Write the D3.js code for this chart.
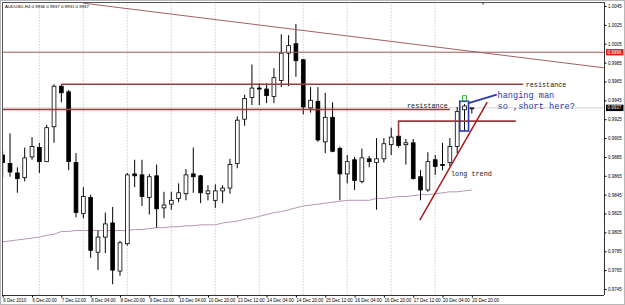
<!DOCTYPE html>
<html>
<head>
<meta charset="utf-8">
<script src="https://cdn.jsdelivr.net/npm/d3@7"></script>
<style>
  html, body { margin: 0; padding: 0; background: #fff; }
  svg { display: block; font-family: "Liberation Sans", Arial, sans-serif; }
  .mono { font-family: "Liberation Mono", "Courier New", monospace; }
</style>
</head>
<body>
<svg id="chart" width="625" height="305"></svg>
<script>
// AUDUSD H4, 6 Dec 2010 04:00 .. 20 Dec 2010 20:00 (bar index 0..64)
const opens = [0.9887, 0.9878, 0.9868, 0.9863, 0.9885, 0.9895, 0.9880, 0.9917, 0.9960, 0.9954,
  0.9879, 0.9825, 0.9842, 0.9784, 0.9800, 0.9815, 0.9764, 0.9793, 0.9867, 0.9866,
  0.9842, 0.9865, 0.9831, 0.9835, 0.9841, 0.9846, 0.9867, 0.9865, 0.9846, 0.9839,
  0.9849, 0.9852, 0.9878, 0.9925, 0.9948, 0.9958, 0.9957, 0.9949, 0.9966, 0.9995,
  1.0005, 0.9988, 0.9937, 0.9944, 0.9901, 0.9927, 0.9894, 0.9867, 0.9882, 0.9859,
  0.9883, 0.9879, 0.9883, 0.9898, 0.9907, 0.9898, 0.9900, 0.9864, 0.9850, 0.9882,
  0.9877, 0.9879, 0.9896, 0.9935, 0.9936];
const highs = [0.9891, 0.9910, 0.9874, 0.9895, 0.9906, 0.9900, 0.9919, 0.9962, 0.9962, 0.9956,
  0.9889, 0.9853, 0.9845, 0.9807, 0.9826, 0.9832, 0.9796, 0.9868, 0.9882, 0.9882,
  0.9867, 0.9877, 0.9848, 0.9848, 0.9857, 0.9872, 0.9895, 0.9866, 0.9855, 0.9856,
  0.9855, 0.9883, 0.9928, 0.9951, 0.9983, 0.9963, 0.9963, 0.9979, 1.0015, 1.0014,
  1.0026, 0.9989, 0.9959, 0.9959, 0.9953, 0.9943, 0.9896, 0.9887, 0.9885, 0.9894,
  0.9886, 0.9905, 0.9905, 0.9916, 0.9914, 0.9904, 0.9904, 0.9871, 0.9890, 0.9887,
  0.9900, 0.9905, 0.9938, 0.9941, 0.9937];
const lows = [0.9863, 0.9864, 0.9847, 0.9859, 0.9882, 0.9868, 0.9880, 0.9900, 0.9943, 0.9871,
  0.9821, 0.9820, 0.9778, 0.9765, 0.9783, 0.9750, 0.9759, 0.9791, 0.9853, 0.9833,
  0.9824, 0.9810, 0.9820, 0.9829, 0.9837, 0.9839, 0.9847, 0.9836, 0.9839, 0.9831,
  0.9836, 0.9846, 0.9873, 0.9918, 0.9940, 0.9940, 0.9942, 0.9942, 0.9959, 0.9960,
  0.9970, 0.9930, 0.9932, 0.9901, 0.9889, 0.9890, 0.9839, 0.9857, 0.9850, 0.9857,
  0.9874, 0.9829, 0.9879, 0.9887, 0.9895, 0.9877, 0.9861, 0.9839, 0.9848, 0.9866,
  0.9871, 0.9875, 0.9889, 0.9913, 0.9931];
const closes = [0.9879, 0.9869, 0.9862, 0.9884, 0.9896, 0.9880, 0.9916, 0.9960, 0.9953, 0.9880,
  0.9826, 0.9843, 0.9786, 0.9800, 0.9814, 0.9765, 0.9794, 0.9866, 0.9865, 0.9843,
  0.9864, 0.9830, 0.9834, 0.9839, 0.9847, 0.9866, 0.9864, 0.9847, 0.9849, 0.9849,
  0.9852, 0.9877, 0.9924, 0.9947, 0.9958, 0.9957, 0.9950, 0.9969, 0.9995, 1.0003,
  0.9987, 0.9938, 0.9945, 0.9903, 0.9927, 0.9891, 0.9867, 0.9880, 0.9860, 0.9884,
  0.9880, 0.9883, 0.9899, 0.9906, 0.9897, 0.9900, 0.9862, 0.9850, 0.9880, 0.9875,
  0.9876, 0.9896, 0.9933, 0.9939, 0.9937];
// moving average line
const maValues = [0.9795, 0.9796, 0.9797, 0.9798, 0.9799, 0.9800, 0.9802, 0.9803, 0.9806, 0.9806,
  0.9807, 0.9807, 0.9807, 0.9807, 0.9807, 0.9807, 0.9807, 0.9807, 0.9808, 0.9808,
  0.9809, 0.9810, 0.9810, 0.9811, 0.9811, 0.9812, 0.9812, 0.9813, 0.9813, 0.9813,
  0.9815, 0.9816, 0.9817, 0.9819, 0.9820, 0.9822, 0.9824, 0.9826, 0.9827, 0.9829,
  0.9831, 0.9833, 0.9834, 0.9835, 0.9836, 0.9837, 0.9838, 0.9839, 0.9839, 0.9839,
  0.9839, 0.9841, 0.9841, 0.9842, 0.9843, 0.9843, 0.9844, 0.9845, 0.9845, 0.9846,
  0.9847, 0.9848, 0.9848, 0.9849, 0.9850];

const timeLabels = ['6 Dec 2010', '6 Dec 20:00', '7 Dec 12:00', '8 Dec 04:00', '8 Dec 20:00',
  '9 Dec 12:00', '10 Dec 04:00', '10 Dec 20:00', '13 Dec 12:00', '14 Dec 04:00', '14 Dec 20:00',
  '15 Dec 12:00', '16 Dec 04:00', '16 Dec 20:00', '17 Dec 12:00', '20 Dec 04:00', '20 Dec 20:00'];
const labelBars = [0, 4, 8, 12, 16, 20, 24, 28, 32, 36, 40, 44, 48, 52, 56, 60, 64];
const dayBars = [5, 11, 17, 23, 29, 35, 41, 47, 53, 59];
const priceTicks = [1.0045, 1.0025, 1.0005, 0.9985, 0.9965, 0.9945, 0.9925, 0.9905, 0.9885,
  0.9865, 0.9845, 0.9825, 0.9805, 0.9785, 0.9765, 0.9745];

// drawn objects: [bar, price] pairs
const downTrend = [[11, 1.0048], [82, 0.99795]];
const upTrend = [[56.9, 0.9818], [66.1, 0.9943]];
const levelLine = 0.9996;
const resistHigh = {from: 8, to: 71, price: 0.9962};
const resistMid = {from: 0, to: 61, price: 0.99353};
const resistLow = {from: 54, to: 70, price: 0.9923, leg: 0.9907};
const boxBars = [62.35, 63.55], boxPrices = [0.9944, 0.99125];
const pointer = [[63.55, 0.9942], [67.4, 0.9951]];
const bidPrice = 0.9937;

const svg = d3.select('#chart');
const plotLeft = 2, plotTop = 2, plotRight = 604, plotBottom = 295;

const x = d3.scaleLinear().domain([0, 82]).range([2.7, 603.8]);
const y = d3.scaleLinear().domain([0.9745, 1.0045]).range([289, 6]);

svg.append('rect').attr('width', 625).attr('height', 305).attr('fill', '#fff');

svg.append('defs').append('clipPath').attr('id', 'plot')
  .append('rect').attr('x', plotLeft).attr('y', plotTop)
  .attr('width', plotRight - plotLeft).attr('height', plotBottom - plotTop);

const plot = svg.append('g').attr('clip-path', 'url(#plot)');

// day separators
plot.selectAll('.grid').data(dayBars).enter().append('line')
  .attr('x1', d => x(d)).attr('x2', d => x(d))
  .attr('y1', plotTop).attr('y2', plotBottom)
  .attr('stroke', '#c4c4c4').attr('stroke-width', 0.8)
  .attr('stroke-dasharray', '1.5,1.5');

// moving average
plot.append('path')
  .datum(maValues)
  .attr('fill', 'none')
  .attr('stroke', '#b896b8').attr('stroke-width', 1)
  .attr('d', d3.line().x((d, i) => x(i)).y(d => y(d)));

// bid line
plot.append('line')
  .attr('x1', plotLeft).attr('x2', plotRight)
  .attr('y1', y(bidPrice)).attr('y2', y(bidPrice))
  .attr('stroke', '#b0b0b0').attr('stroke-width', 0.6);

// candles
const candles = opens.map((o, i) => ({i, o, h: highs[i], l: lows[i], c: closes[i]}));
const cg = plot.selectAll('.candle').data(candles).enter().append('g');
cg.append('line')
  .attr('x1', d => x(d.i)).attr('x2', d => x(d.i))
  .attr('y1', d => y(d.h)).attr('y2', d => y(d.l))
  .attr('stroke', '#000').attr('stroke-width', 1);
cg.append('rect')
  .attr('x', d => x(d.i) - 1.9)
  .attr('width', 3.8)
  .attr('y', d => y(Math.max(d.o, d.c)))
  .attr('height', d => Math.max(0.6, Math.abs(y(d.o) - y(d.c))))
  .attr('fill', d => d.c >= d.o ? '#fff' : '#000')
  .attr('stroke', '#000').attr('stroke-width', 0.8);

// drawn lines
const lineColor = '#9a3c3c';
plot.append('line')
  .attr('x1', plotLeft).attr('x2', plotRight)
  .attr('y1', y(levelLine)).attr('y2', y(levelLine))
  .attr('stroke', '#a05858').attr('stroke-width', 1);
plot.append('line')
  .attr('x1', x(downTrend[0][0])).attr('y1', y(downTrend[0][1]))
  .attr('x2', x(downTrend[1][0])).attr('y2', y(downTrend[1][1]))
  .attr('stroke', '#a26060').attr('stroke-width', 1);
[resistHigh, resistMid].forEach(r => {
  plot.append('line')
    .attr('x1', Math.max(plotLeft, x(r.from))).attr('x2', x(r.to))
    .attr('y1', y(r.price)).attr('y2', y(r.price))
    .attr('stroke', lineColor).attr('stroke-width', 1.6);
});
plot.append('path')
  .attr('fill', 'none').attr('stroke', lineColor).attr('stroke-width', 1.6)
  .attr('d', `M${x(resistLow.from)},${y(resistLow.leg)}V${y(resistLow.price)}H${x(resistLow.to)}`);
plot.append('line')
  .attr('x1', x(upTrend[0][0])).attr('y1', y(upTrend[0][1]))
  .attr('x2', x(upTrend[1][0])).attr('y2', y(upTrend[1][1]))
  .attr('stroke', '#a51c1c').attr('stroke-width', 1.5);

// hanging man box + pointer
plot.append('rect')
  .attr('x', x(boxBars[0])).attr('y', y(boxPrices[0]))
  .attr('width', x(boxBars[1]) - x(boxBars[0]))
  .attr('height', y(boxPrices[1]) - y(boxPrices[0]))
  .attr('fill', 'none').attr('stroke', '#2a3aa8').attr('stroke-width', 1.6);
plot.append('line')
  .attr('x1', x(pointer[0][0])).attr('y1', y(pointer[0][1]))
  .attr('x2', x(pointer[1][0])).attr('y2', y(pointer[1][1]))
  .attr('stroke', '#2a3aa8').attr('stroke-width', 1.8);
// green mark above the hanging man
const gx = x(63), gy = y(highs[63]) - 3;
plot.append('path')
  .attr('fill', 'none').attr('stroke', '#3cb43c').attr('stroke-width', 1)
  .attr('d', `M${gx - 3.5},${gy}H${gx - 2}V${gy - 5.5}H${gx + 2}V${gy}H${gx + 3.5}`);

// texts
const mono = svg.append('g').attr('class', 'mono');
mono.append('text').attr('x', 407).attr('y', 108.3).attr('font-size', 6.8).attr('fill', '#222').text('resistance');
mono.append('text').attr('x', x(resistHigh.to) + 2.5).attr('y', 87.3).attr('font-size', 6.8).attr('fill', '#222').text('resistance');
mono.append('text').attr('x', 451).attr('y', 175.5).attr('font-size', 6.8).attr('fill', '#222').text('long trend');
mono.append('text').attr('x', 497.5).attr('y', 97.6).attr('font-size', 8.6).attr('fill', '#2a3aa8').text('hanging man');
mono.append('text').attr('x', 497.5).attr('y', 108.8).attr('font-size', 8.6).attr('fill', '#2a3aa8').text('so ,short here?');

svg.append('text').attr('x', 5).attr('y', 8).attr('font-size', 4.4).attr('fill', '#000')
  .text('AUDUSD,H4  0.9936 0.9937 0.9931 0.9937');

// shift marker
svg.append('path').attr('d', 'M481,2.5h4l-2,2.5z').attr('fill', '#888');

// frame
svg.append('rect').attr('x', 0.5).attr('y', 0.5).attr('width', 624).attr('height', 304)
  .attr('fill', 'none').attr('stroke', '#b8b8b8');
svg.append('line').attr('x1', plotLeft + 0.5).attr('x2', plotLeft + 0.5).attr('y1', plotTop).attr('y2', plotBottom)
  .attr('stroke', '#555');
svg.append('line').attr('x1', plotLeft).attr('x2', plotRight).attr('y1', plotTop + 0.5).attr('y2', plotTop + 0.5)
  .attr('stroke', '#555');

// price axis
const yAxis = d3.axisRight(y).tickValues(priceTicks).tickSize(2).tickSizeOuter(0)
  .tickPadding(1.5).tickFormat(d3.format('.4f'));
const ya = svg.append('g').attr('transform', `translate(${plotRight + 0.5},0)`).call(yAxis);
ya.select('.domain').attr('d', `M0,${plotTop}V${plotBottom}`).attr('stroke', '#333');
ya.selectAll('text').attr('font-size', 4.5).attr('font-family', 'Liberation Sans, Arial, sans-serif');

// price markers on the axis
[[levelLine, '#d82020', '#fff'], [bidPrice, '#000', '#fff']].forEach(([p, bg, fg]) => {
  const g = svg.append('g').attr('transform', `translate(${plotRight + 2},${y(p)})`);
  g.append('rect').attr('x', 0).attr('y', -3.2).attr('width', 17.5).attr('height', 6.4).attr('fill', bg);
  g.append('text').attr('x', 1.5).attr('y', 1.6).attr('font-size', 4.5).attr('fill', fg)
    .text(d3.format('.4f')(p));
});

// time axis
const xAxis = d3.axisBottom(x).tickValues(labelBars).tickSize(2).tickSizeOuter(0)
  .tickPadding(1.5).tickFormat((d, i) => timeLabels[i]);
const xa = svg.append('g').attr('transform', `translate(0,${plotBottom + 0.5})`).call(xAxis);
xa.select('.domain').attr('d', `M${plotLeft},0H${plotRight}`).attr('stroke', '#333');
xa.selectAll('text').attr('font-size', 4.5).attr('text-anchor', 'start')
  .attr('font-family', 'Liberation Sans, Arial, sans-serif');
</script>
</body>
</html>
